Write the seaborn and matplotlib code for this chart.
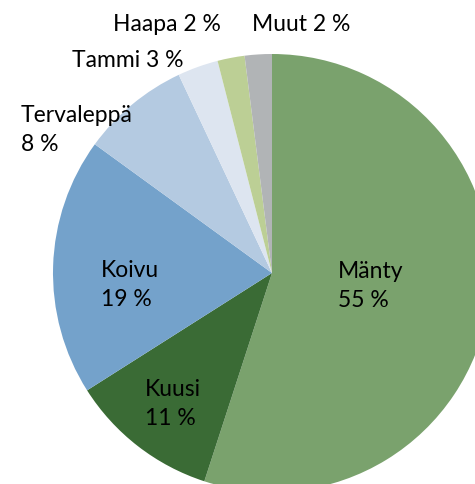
import matplotlib
matplotlib.use("Agg")
import matplotlib.pyplot as plt
import seaborn as sns

sns.set_theme(style="white")
plt.rcParams['font.family'] = ['Lato', 'DejaVu Sans']

# data, clockwise from 12 o'clock
species = ["Mänty", "Kuusi", "Koivu", "Tervaleppä", "Tammi", "Haapa", "Muut"]
shares = [55, 11, 19, 8, 3, 2, 2]
colors = ["#7aa26d", "#3a6b35", "#74a2cb", "#b4cae1", "#dde5f0", "#bccf95", "#b1b4b6"]

# label text and where it sits (pixels, last-line baseline)
label_text = ["Mänty\n55 %", "Kuusi\n11 %", "Koivu\n19 %", "Tervaleppä\n8 %",
              "Tammi 3 %", "Haapa 2 %", "Muut 2 %"]
label_pos = [(338, 307), (145, 425), (101, 306), (21, 151), (72, 67), (113, 31), (252, 31)]

W, H = 475, 484
fig = plt.figure(figsize=(W / 100, H / 100), dpi=100)

# pie centre and radius in pixels
cx, cy, r = 272, 273, 219
ax = fig.add_axes([(cx - r) / W, 1 - (cy + r) / H, 2 * r / W, 2 * r / H])
ax.pie(shares, colors=colors, startangle=90, counterclock=False, radius=1,
       wedgeprops=dict(linewidth=0))
ax.set_xlim(-1, 1)
ax.set_ylim(-1, 1)
ax.axis("off")

for txt, (px, py) in zip(label_text, label_pos):
    fig.text(px / W, 1 - py / H, txt, ha="left", va="baseline",
             fontsize=16.5, color="black", linespacing=1.45)

fig.savefig("out.png", dpi=100)
